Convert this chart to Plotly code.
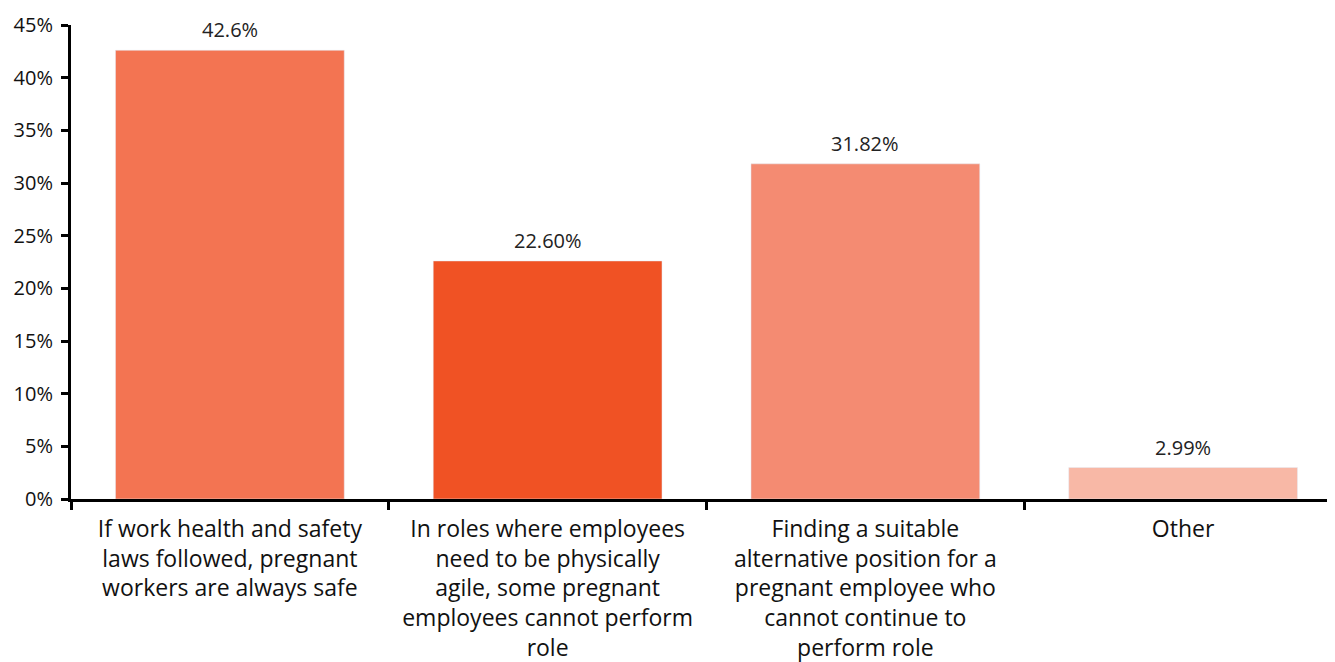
import plotly.graph_objects as go

categories = [
    "If work health and safety<br>laws followed, pregnant<br>workers are always safe",
    "In roles where employees<br>need to be physically<br>agile, some pregnant<br>employees cannot perform<br>role",
    "Finding a suitable<br>alternative position for a<br>pregnant employee who<br>cannot continue to<br>perform role",
    "Other",
]
values = [42.6, 22.60, 31.82, 2.99]
value_labels = ["42.6%", "22.60%", "31.82%", "2.99%"]
colors = ["#F37452", "#F05224", "#F48B72", "#F8B8A6"]

FONT = "Open Sans"

fig = go.Figure(go.Bar(
    x=categories, y=values, marker_color=colors, hoverinfo="x+y",
))

for c, v, t in zip(categories, values, value_labels):
    fig.add_annotation(
        x=c, y=v, text=t, showarrow=False, yanchor="bottom", yshift=5,
        font=dict(family=FONT, size=20, color="#222222"),
    )

# page body has an 8px default margin, so margins are offset accordingly
fig.update_layout(
    width=1335, height=662,
    margin=dict(l=63, r=8, t=17, b=171, autoexpand=False),
    plot_bgcolor="white", paper_bgcolor="white",
    font=dict(family=FONT, color="#111111"),
    bargap=0.28, showlegend=False,
)
fig.update_yaxes(
    range=[0, 45], dtick=5, ticksuffix="%", showgrid=False,
    showline=True, linecolor="black", linewidth=3,
    ticks="outside", ticklen=7, tickwidth=3, tickcolor="black",
    tickfont=dict(size=20, color="#111111"), zeroline=False, automargin=False,
    ticklabelstandoff=4,
)
fig.update_xaxes(
    range=[-0.5, 3.478], showline=True, linecolor="black", linewidth=3,
    ticks="outside", tickson="boundaries", ticklen=8, tickwidth=3, tickcolor="black",
    tickfont=dict(size=23, color="#111111"), tickangle=0, automargin=False,
    ticklabelstandoff=7,
)

fig.write_html("out.html")
